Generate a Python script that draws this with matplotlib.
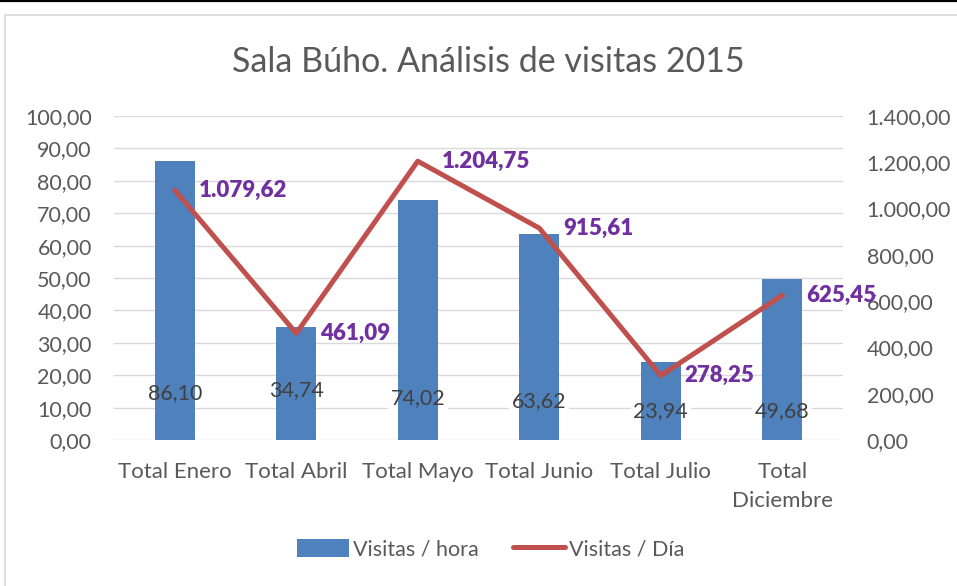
import matplotlib
matplotlib.use("Agg")
import matplotlib.pyplot as plt
from matplotlib.patches import Patch
from matplotlib.lines import Line2D
import numpy as np

plt.rcParams['font.family'] = ['Lato', 'DejaVu Sans']

# data
categories = ['Total Enero', 'Total Abril', 'Total Mayo', 'Total Junio',
              'Total Julio', 'Total\nDiciembre']
visitas_hora = [86.10, 34.74, 74.02, 63.62, 23.94, 49.68]
visitas_dia = [1079.62, 461.09, 1204.75, 915.61, 278.25, 625.45]
left_ticks = np.arange(0, 101, 10)
right_ticks = np.arange(0, 1401, 200)

# label placement (layout only)
bar_label_y = [14.5, 15.4, 13.0, 12.0, 9.0, 9.0]

def fmt(v):
    s = f"{v:,.2f}"
    return s.replace(',', 'X').replace('.', ',').replace('X', '.')

bar_color = '#4F81BD'
line_color = '#C0504D'
label_purple = '#7030A0'
text_grey = '#595959'

fig = plt.figure(figsize=(9.57, 5.86), dpi=100)

# outer frame
fig.add_artist(Line2D([0, 1], [1 - 1 / 586, 1 - 1 / 586], transform=fig.transFigure,
                      color='black', lw=1.6))
fig.add_artist(Line2D([4.5 / 957, 4.5 / 957, 1.0], [0, 1 - 15 / 586, 1 - 15 / 586],
                      transform=fig.transFigure, color='#D9D9D9', lw=1.2))

ax = fig.add_axes([114 / 957, 146 / 586, 729 / 957, 324 / 586])
ax2 = ax.twinx()

x = np.arange(len(categories))
ax.bar(x, visitas_hora, width=0.33, color=bar_color, zorder=2)
ax.set_ylim(0, 100)
ax.set_xlim(-0.5, len(categories) - 0.5)
ax.set_yticks(left_ticks)
ax.set_yticklabels([fmt(v) for v in left_ticks])
ax.set_xticks(x)
ax.set_xticklabels(categories, linespacing=1.55)
ax.grid(axis='y', color='#D9D9D9', lw=1.0, zorder=0)
ax.set_axisbelow(True)
for s in ax.spines.values():
    s.set_visible(False)
ax.tick_params(axis='y', length=0, pad=16, labelsize=15.5, labelcolor=text_grey)
ax.tick_params(axis='x', length=0, pad=16, labelsize=16, labelcolor=text_grey)

# bar labels: white box behind bar, text on top
for xi, v, ly in zip(x, visitas_hora, bar_label_y):
    ax.text(xi, ly, fmt(v), ha='center', va='center', fontsize=15.5, color='none',
            bbox=dict(facecolor='white', edgecolor='none', pad=2), zorder=1.5)
    ax.text(xi, ly, fmt(v), ha='center', va='center', fontsize=15.5,
            color='#404040', zorder=5)

ax2.plot(x, visitas_dia, color=line_color, lw=3.6, solid_capstyle='round',
         solid_joinstyle='round', zorder=3)
ax2.set_ylim(0, 1400)
ax2.set_yticks(right_ticks)
ax2.set_yticklabels([fmt(v) for v in right_ticks])
for s in ax2.spines.values():
    s.set_visible(False)
ax2.tick_params(axis='y', length=0, pad=17, labelsize=15.5, labelcolor=text_grey)
ax2.patch.set_visible(False)

for xi, v in zip(x, visitas_dia):
    ax2.annotate(fmt(v), (xi, v), xytext=(17, 0),
                 textcoords='offset points', ha='left', va='center',
                 fontsize=16, fontweight='heavy', color=label_purple, zorder=6)

fig.text(488 / 957, 1 - 62 / 586, 'Sala Búho. Análisis de visitas 2015',
         ha='center', va='center', fontsize=24.5, color=text_grey)

handles = [Patch(facecolor=bar_color, edgecolor='none'),
           Line2D([0], [0], color=line_color, lw=3.6, solid_capstyle='round')]
fig.legend(handles, ['Visitas / hora', 'Visitas / Día'], loc='center',
           bbox_to_anchor=(491 / 957, 37 / 586), ncol=2, frameon=False,
           fontsize=15.5, labelcolor=text_grey, handlelength=2.4,
           handleheight=0.95, handletextpad=0.2, columnspacing=1.6)

fig.savefig('out.png', dpi=100)
